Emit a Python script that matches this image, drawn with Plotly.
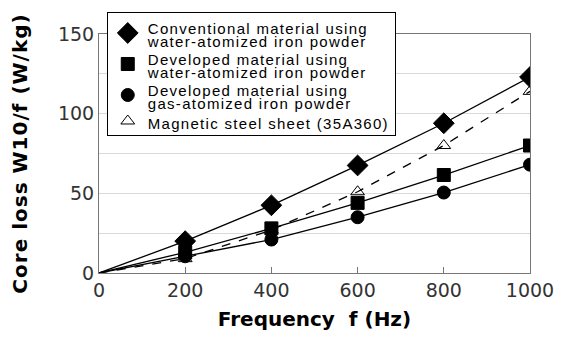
import plotly.graph_objects as go

freq = [0, 200, 400, 600, 800, 1000]
conv_water = [0, 20, 42.5, 67.5, 94, 123]
dev_water = [0, 13, 28, 44, 61.5, 80]
dev_gas = [0, 10.5, 21, 35, 50.5, 68]
steel_sheet = [0, 9, 27, 51, 80, 114]

legend_lines = [
    ["Conventional material using", "water-atomized iron powder"],
    ["Developed material using", "water-atomized iron powder"],
    ["Developed material using", "gas-atomized iron powder"],
    ["Magnetic steel sheet (35A360)"],
]
SPAN = '<span style="font-size:15px;letter-spacing:1.3px;baseline-shift:-4px">{}</span>'
names = ["<br>".join(SPAN.format(t) for t in lines) for lines in legend_lines]

fig = go.Figure()
series = [
    (conv_water, "diamond", 16, "solid"),
    (dev_water, "square", 13, "solid"),
    (dev_gas, "circle", 13, "solid"),
    (steel_sheet, "triangle-up-open", 12, "dash"),
]
for (vals, sym, sz, dash), name in zip(series, names):
    fig.add_trace(go.Scatter(
        x=freq, y=vals, mode="lines", showlegend=False, hoverinfo="skip",
        line=dict(color="black", width=1.3, dash=dash),
    ))
for i, ((vals, sym, sz, dash), name) in enumerate(zip(series, names)):
    fig.add_trace(go.Scatter(
        x=freq[1:], y=vals[1:], name=name, mode="markers", legendgroup=f"g{i}",
        marker=dict(symbol=sym, size=sz, color="black",
                    line=dict(color="black", width=1)),
    ))

fig.update_layout(
    width=566, height=342,
    margin=dict(l=99, r=29, t=33, b=69),
    paper_bgcolor="white", plot_bgcolor="white",
    font=dict(family="DejaVu Sans", color="#333333"),
    showlegend=True,
    legend=dict(
        x=0.018, y=1.09, xanchor="left", yanchor="top",
        bgcolor="white", bordercolor="black", borderwidth=1,
        font=dict(family="Liberation Sans", size=10, color="black"),
        tracegroupgap=2, itemwidth=30,
    ),
    xaxis=dict(
        range=[0, 1000], tickvals=[0, 200, 400, 600, 800, 1000],
        showgrid=False, ticks="inside", ticklen=6, tickcolor="#777777",
        showline=True, linecolor="#777777", linewidth=1, mirror=True,
        tickfont=dict(size=19, color="#333333"),
        title=dict(text="<b>Frequency  f (Hz)</b>", font=dict(size=20, color="black"), standoff=12),
        zeroline=False,
    ),
    yaxis=dict(
        range=[0, 150], tickvals=[0, 50, 100, 150],
        showgrid=False,
        showline=True, linecolor="#777777", linewidth=1, mirror=True,
        tickfont=dict(size=19, color="#333333"),
        title=dict(text='<span style="letter-spacing:1px"><b>Core loss W10/f (W/kg)</b></span>',
                   font=dict(size=20, color="black"), standoff=24),
        zeroline=False,
    ),
)
fig.update_yaxes(minor=dict(tickvals=[25, 50, 75, 100, 125], showgrid=True, gridcolor="#d9d9d9", gridwidth=1))

fig.write_html("out.html")
